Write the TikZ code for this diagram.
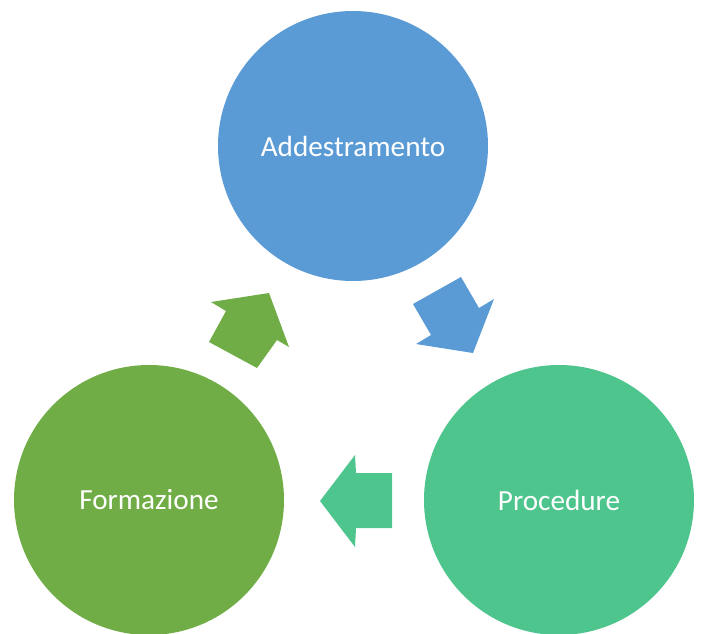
\documentclass[tikz,border=0pt]{standalone}
\usepackage{fontspec}
\setmainfont{Carlito}
\definecolor{cblue}{HTML}{5B9BD5}
\definecolor{cgreen}{HTML}{70AD47}
\definecolor{cteal}{HTML}{4FC58E}
\tikzset{
  bubble/.style={circle, minimum size=270pt, inner sep=0pt, text=white, font=\fontsize{29.2}{35}\selectfont},
  blockarrow/.style={draw=none}
}
\begin{document}
\begin{tikzpicture}[x=1pt,y=-1pt]
\useasboundingbox (0,0) rectangle (705,634);
\begin{scope}
\clip (0,0) rectangle (705,634);
\node[bubble, fill=cblue] (add) at (353,146) {Addestramento};
\node[bubble, fill=cteal] (proc) at (559,500) {Procedure};
\node[bubble, fill=cgreen] (form) at (149,500) {Formazione};
\end{scope}
% arrow Addestramento -> Procedure
\fill[cblue] (413,304) -- (461,277) -- (479,308) -- (494,299) -- (473,353) -- (416,344) -- (431,335) -- cycle;
% arrow Procedure -> Formazione
\fill[cteal] (320,501) -- (355,455) -- (356,473) -- (392,473) -- (392,528) -- (356,528) -- (355,547) -- cycle;
% arrow Formazione -> Addestramento
\fill[cgreen] (269,293) -- (289,347) -- (277,340) -- (257,368) -- (209,342) -- (226,311) -- (211,302) -- cycle;
\end{tikzpicture}
\end{document}
